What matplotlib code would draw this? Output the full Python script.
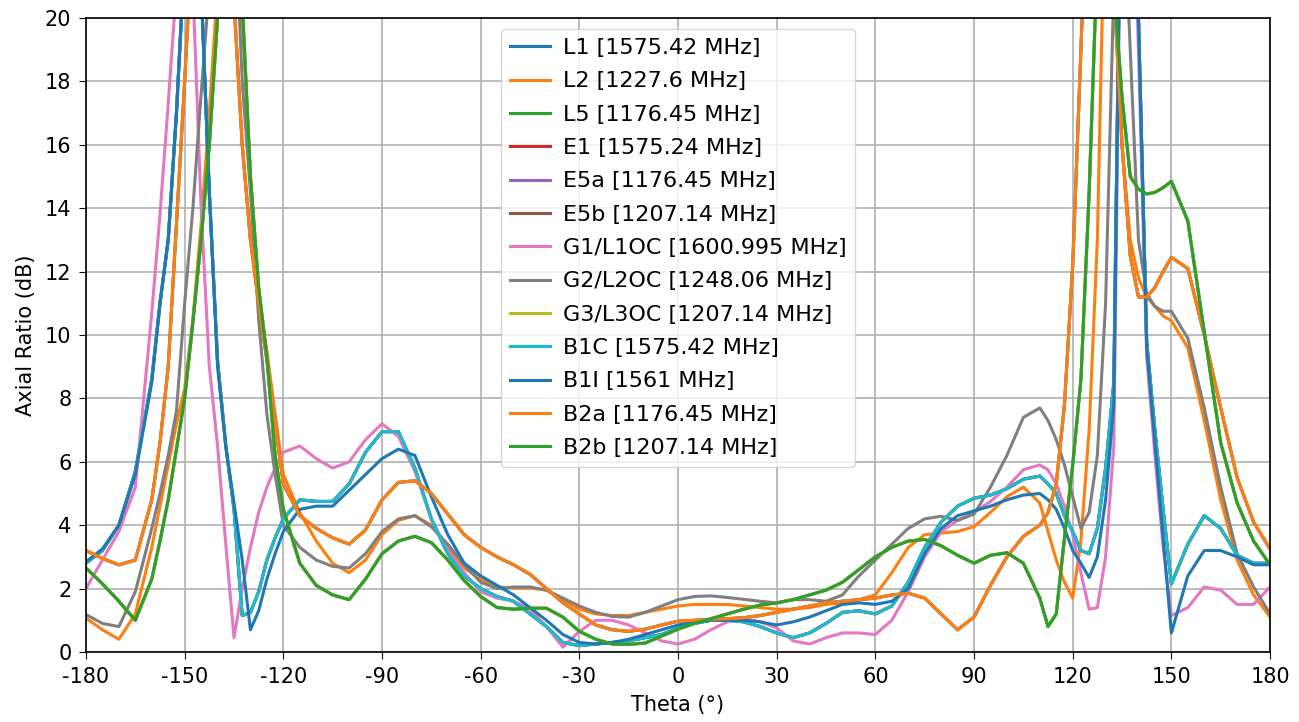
import matplotlib
matplotlib.use('Agg')
import matplotlib.pyplot as plt

plt.rcParams['font.size'] = 15
plt.rcParams['axes.unicode_minus'] = False
plt.rcParams['xtick.major.size'] = 5.25
plt.rcParams['ytick.major.size'] = 5.25
plt.rcParams['xtick.major.pad'] = 5.25
plt.rcParams['ytick.major.pad'] = 5.25
plt.rcParams['axes.labelpad'] = 6
plt.rcParams['axes.linewidth'] = 1.2
plt.rcParams['grid.linewidth'] = 1.2

theta = [-180, -175, -170, -165, -160,
         -157.5, -155, -152.5, -150, -147.5, -145, -142.5, -140,
         -137.5, -135, -132.5, -130, -127.5, -125, -122.5, -120,
         -115, -110, -105, -100, -95, -90, -85, -80, -75, -70,
         -65, -60, -55, -50, -45, -40, -35, -30, -25, -20,
         -15, -10, -5, 0, 5, 10, 15, 20, 25, 30,
         35, 40, 45, 50, 55, 60, 65, 70, 75, 80,
         85, 90, 95, 100, 105, 110,
         112.5, 115, 117.5, 120, 122.5, 125, 127.5, 130,
         132.5, 135, 137.5, 140, 142.5, 145, 147.5, 150,
         155, 160, 165, 170, 175, 180]

# axial ratio per frequency (dB)
ar_1575 = [2.8, 3.2, 4.0, 5.7, 8.6,
           11.0, 13.0, 17.0, 22.0, 24.0, 21.0, 14.5, 9.2,
           6.5, 4.5, 1.15, 1.25, 1.9, 2.9, 3.6, 4.2,
           4.8, 4.75, 4.75, 5.3, 6.3, 6.95, 6.95, 5.8, 4.2, 3.1,
           2.4, 2.0, 1.75, 1.6, 1.2, 0.8, 0.3, 0.2, 0.25, 0.3,
           0.35, 0.45, 0.55, 0.75, 0.9, 1.0, 1.0, 0.95, 0.8, 0.6,
           0.45, 0.6, 0.9, 1.25, 1.3, 1.2, 1.45, 2.2, 3.3, 4.1,
           4.6, 4.85, 4.95, 5.15, 5.45, 5.55,
           5.3, 5.0, 4.3, 3.8, 3.2, 3.1, 3.9, 5.8,
           8.5, 28.0, 28.0, 20.0, 9.8, 7.0, 4.5, 2.15,
           3.4, 4.3, 3.9, 3.05, 2.8, 2.8]

ar_1561 = [2.85, 3.25, 4.0, 5.6, 8.5,
           11.0, 13.0, 17.0, 22.0, 24.0, 21.0, 14.5, 9.0,
           6.5, 4.7, 2.9, 0.7, 1.3, 2.3, 3.1, 3.8,
           4.5, 4.6, 4.6, 5.1, 5.6, 6.1, 6.4, 6.2, 4.9, 3.7,
           2.8, 2.4, 2.1, 1.8, 1.4, 1.0, 0.55, 0.3, 0.25, 0.3,
           0.4, 0.55, 0.7, 0.85, 0.95, 1.0, 1.0, 1.0, 0.95, 0.85,
           0.95, 1.1, 1.3, 1.5, 1.55, 1.5, 1.6, 2.0, 3.1, 3.9,
           4.3, 4.45, 4.6, 4.8, 4.95, 5.0,
           4.8, 4.5, 3.9, 3.2, 2.8, 2.35, 3.0, 4.8,
           7.8, 28.0, 28.0, 20.0, 9.6, 6.6, 3.6, 0.6,
           2.4, 3.2, 3.2, 3.0, 2.75, 2.75]

ar_1601 = [2.0, 2.9, 3.8, 5.2, 10.7,
           13.8, 17.3, 21.0, 28.0, 21.0, 14.0, 9.0, 6.5,
           3.4, 0.45, 2.0, 3.3, 4.4, 5.2, 5.8, 6.3,
           6.5, 6.1, 5.8, 6.0, 6.7, 7.2, 6.8, 5.7, 4.2, 3.2,
           2.5, 1.9, 1.7, 1.6, 1.35, 0.8, 0.15, 0.65, 1.0, 1.0,
           0.85, 0.6, 0.35, 0.25, 0.4, 0.7, 0.95, 1.05, 0.95, 0.76,
           0.35, 0.25, 0.45, 0.6, 0.6, 0.55, 1.0, 1.9, 3.0, 3.8,
           4.15, 4.4, 4.75, 5.2, 5.75, 5.9,
           5.75, 5.3, 4.6, 3.7, 2.5, 1.35, 1.4, 3.0,
           6.5, 27.0, 27.0, 19.0, 9.3, 6.2, 3.3, 1.15,
           1.4, 2.05, 1.95, 1.5, 1.5, 2.05]

ar_1248 = [1.18, 0.9, 0.8, 1.9, 3.9,
           5.0, 6.2, 7.6, 11.0, 14.0, 17.6, 21.0, 25.0,
           27.0, 24.0, 18.0, 14.5, 10.5, 7.5, 5.6, 4.0,
           3.3, 2.9, 2.7, 2.65, 3.1, 3.8, 4.2, 4.3, 3.95, 3.4,
           2.75, 2.2, 2.0, 2.05, 2.05, 1.95, 1.7, 1.45, 1.25, 1.12,
           1.1, 1.25, 1.45, 1.65, 1.75, 1.77, 1.72, 1.66, 1.6, 1.55,
           1.65, 1.65, 1.6, 1.8, 2.4, 2.9, 3.4, 3.9, 4.2, 4.28,
           4.15, 4.35, 5.2, 6.2, 7.4, 7.7,
           7.3, 6.7, 5.9, 4.9, 3.9, 4.4, 6.2, 11.0,
           21.0, 25.0, 19.0, 13.0, 11.3, 10.9, 10.75, 10.75,
           9.9, 7.7, 5.2, 3.1, 2.05, 1.2]

ar_1176 = [3.2, 2.95, 2.75, 2.9, 4.8,
           6.6, 9.0, 13.5, 18.0, 23.0, 27.0, 28.0, 28.0,
           25.0, 20.5, 16.0, 13.0, 11.0, 9.2, 7.2, 5.3,
           4.3, 3.9, 3.6, 3.4, 3.85, 4.8, 5.35, 5.4, 5.0, 4.35,
           3.7, 3.3, 3.0, 2.75, 2.45, 2.0, 1.55, 1.2, 0.85, 0.7,
           0.65, 0.72, 0.85, 0.97, 1.0, 1.03, 1.05, 1.08, 1.15, 1.25,
           1.35, 1.45, 1.55, 1.6, 1.65, 1.7, 1.8, 1.85, 1.7, 1.2,
           0.7, 1.1, 2.1, 3.0, 3.65, 4.0,
           4.4, 5.3, 7.8, 12.2, 19.0, 26.0, 28.0, 26.0,
           21.0, 16.0, 12.5, 11.2, 11.2, 11.5, 12.0, 12.45,
           12.1, 10.0, 7.7, 5.5, 4.1, 3.25]

ar_1227 = [1.07, 0.7, 0.4, 1.2, 3.3,
           4.6, 5.9, 7.2, 8.3, 10.5, 13.5, 17.0, 21.0,
           25.0, 24.0, 20.0, 15.0, 11.2, 9.5, 7.5, 5.6,
           4.4, 3.5, 2.8, 2.5, 2.9, 3.7, 4.15, 4.3, 4.0, 3.3,
           2.65, 2.3, 2.05, 2.02, 2.02, 1.95, 1.65, 1.35, 1.2, 1.15,
           1.15, 1.25, 1.35, 1.45, 1.5, 1.5, 1.5, 1.45, 1.4, 1.35,
           1.35, 1.4, 1.5, 1.55, 1.65, 1.8, 2.5, 3.3, 3.7, 3.75,
           3.8, 3.95, 4.4, 4.9, 5.2, 4.7,
           3.8, 2.9, 2.2, 1.7, 3.5, 7.0, 13.0, 25.0,
           22.0, 16.0, 13.0, 11.8, 11.2, 10.9, 10.6, 10.45,
           9.6, 7.3, 4.8, 2.9, 1.8, 1.1]

ar_1207 = [2.65, 2.15, 1.6, 1.0, 2.3,
           3.5, 4.8, 6.4, 8.0, 10.4, 13.0, 16.0, 20.0,
           25.0, 27.0, 20.5, 15.0, 11.5, 9.3, 6.2, 4.5,
           2.8, 2.1, 1.8, 1.65, 2.3, 3.1, 3.5, 3.65, 3.45, 2.9,
           2.25, 1.75, 1.4, 1.35, 1.38, 1.38, 1.1, 0.65, 0.4, 0.25,
           0.24, 0.28, 0.5, 0.72, 0.9, 1.05, 1.2, 1.35, 1.48, 1.55,
           1.65, 1.8, 1.95, 2.2, 2.6, 3.0, 3.3, 3.5, 3.55, 3.35,
           3.05, 2.8, 3.05, 3.13, 2.8, 1.7,
           0.8, 1.2, 3.6, 5.9, 8.6, 14.5, 22.0, 27.0,
           21.0, 17.5, 15.0, 14.6, 14.45, 14.5, 14.65, 14.85,
           13.6, 10.1, 6.6, 4.7, 3.5, 2.75]

signals = [('L1 [1575.42 MHz]', ar_1575),
           ('L2 [1227.6 MHz]', ar_1227),
           ('L5 [1176.45 MHz]', ar_1176),
           ('E1 [1575.24 MHz]', ar_1575),
           ('E5a [1176.45 MHz]', ar_1176),
           ('E5b [1207.14 MHz]', ar_1207),
           ('G1/L1OC [1600.995 MHz]', ar_1601),
           ('G2/L2OC [1248.06 MHz]', ar_1248),
           ('G3/L3OC [1207.14 MHz]', ar_1207),
           ('B1C [1575.42 MHz]', ar_1575),
           ('B1I [1561 MHz]', ar_1561),
           ('B2a [1176.45 MHz]', ar_1176),
           ('B2b [1207.14 MHz]', ar_1207)]

fig = plt.figure(figsize=(12.99, 7.22), dpi=100)
ax = fig.add_axes([0.0662, 0.097, 0.9115, 0.878])

for label, values in signals:
    ax.plot(theta, values, linewidth=2.2, label=label)

ax.set_xlim(-180, 180)
ax.set_ylim(0, 20)
ax.set_xticks(range(-180, 181, 30))
ax.set_yticks(range(0, 21, 2))
ax.set_xlabel('Theta (°)')
ax.set_ylabel('Axial Ratio (dB)')
ax.grid(True)
ax.legend(loc='upper center', fontsize=16, labelspacing=0.6,
          handlelength=1.8, handletextpad=0.6)

fig.savefig('out.png', dpi=100)
